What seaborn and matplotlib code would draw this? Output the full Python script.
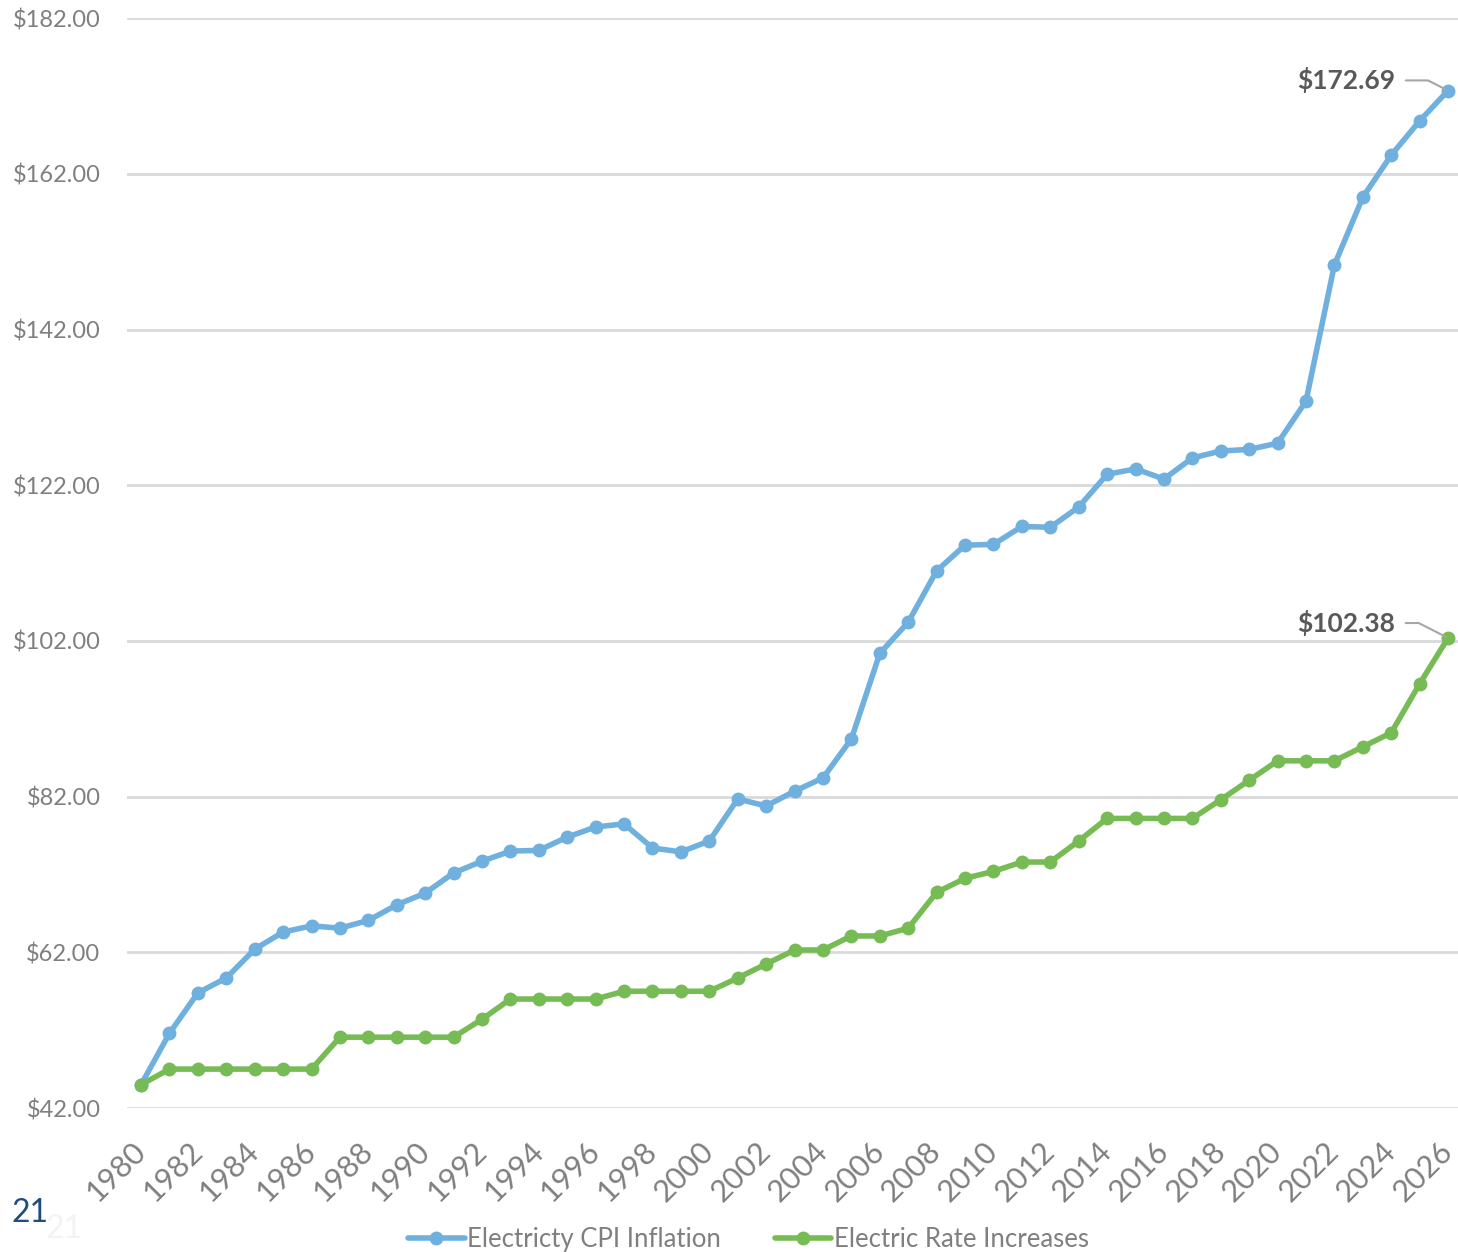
import pandas as pd
import matplotlib.pyplot as plt
import seaborn as sns

years = list(range(1980, 2027))

cpi_inflation = [45.0, 51.6, 56.8, 58.7, 62.4, 64.6, 65.4, 65.1, 66.1, 68.1,
                 69.6, 72.2, 73.7, 75.0, 75.1, 76.8, 78.1, 78.5, 75.4, 74.9,
                 76.3, 81.7, 80.8, 82.7, 84.4, 89.4, 100.4, 104.4, 111.0, 114.3,
                 114.4, 116.7, 116.6, 119.2, 123.4, 124.1, 122.8, 125.5, 126.4, 126.6,
                 127.4, 132.8, 150.3, 159.0, 164.4, 168.8, 172.69]

rate_increases = [45.0, 47.0, 47.0, 47.0, 47.0, 47.0, 47.0, 51.1, 51.1, 51.1,
                  51.1, 51.1, 53.4, 56.0, 56.0, 56.0, 56.0, 57.0, 57.0, 57.0,
                  57.0, 58.7, 60.5, 62.3, 62.3, 64.1, 64.1, 65.1, 69.7, 71.5,
                  72.4, 73.6, 73.6, 76.3, 79.2, 79.2, 79.2, 79.2, 81.6, 84.1,
                  86.6, 86.6, 86.6, 88.4, 90.2, 96.5, 102.38]

series_names = ['Electricty CPI Inflation', 'Electric Rate Increases']
series_colors = ['#6fb0df', '#77bb55']
y_ticks = [42, 62, 82, 102, 122, 142, 162, 182]
x_ticks = list(range(1980, 2027, 2))

df = pd.DataFrame({
    'year': years * 2,
    'value': cpi_inflation + rate_increases,
    'series': [series_names[0]] * len(years) + [series_names[1]] * len(years),
})

sns.set_style('white')
plt.rcParams['font.family'] = ['Lato', 'DejaVu Sans']

fig = plt.figure(figsize=(14.58, 12.52), dpi=100)
ax = fig.add_axes([0.087, 0.115, 0.913, 0.8705])

sns.lineplot(data=df, x='year', y='value', hue='series', palette=series_colors,
             marker='o', markersize=10, markeredgewidth=0, linewidth=4,
             ax=ax, zorder=3)

ax.set_xlim(1979.5, 2026.35)
ax.set_ylim(42, 182)
ax.set_yticks(y_ticks)
ax.set_yticklabels([f'${v:.2f}' for v in y_ticks])
ax.set_xticks(x_ticks)
ax.set_xticklabels([str(y) for y in x_ticks], rotation=45, ha='right',
                   va='center', rotation_mode='anchor')
ax.tick_params(axis='both', length=0, colors='#7f7f7f')
ax.tick_params(axis='y', pad=19, labelsize=17)
ax.tick_params(axis='x', pad=28, labelsize=22)
ax.set_xlabel('')
ax.set_ylabel('')
ax.grid(axis='y', color='#d9d9d9', linewidth=2)
ax.set_axisbelow(True)
for s in ax.spines.values():
    s.set_visible(False)

# end labels with leader lines
for vals, txt_y in [(cpi_inflation, 174.0), (rate_increases, 104.3)]:
    last = vals[-1]
    ax.annotate(f'${last:.2f}', xy=(years[-1], last), xytext=(2024.15, txt_y),
                ha='right', va='center', fontsize=19, fontweight='bold',
                color='#595959',
                arrowprops=dict(arrowstyle='-', color='#a6a6a6', lw=1.5,
                                connectionstyle='angle,angleA=0,angleB=153,rad=0',
                                shrinkA=5, shrinkB=2))

leg = ax.legend(loc='upper center', bbox_to_anchor=(0.467, -0.088), ncol=2,
                frameon=False, fontsize=18.5, handlelength=2.2, handletextpad=0.1,
                columnspacing=2.1)
for t in leg.get_texts():
    t.set_color('#7f7f7f')

fig.text(0.008, 0.024, '21', fontsize=23, color='#1f4e79')
fig.text(0.031, 0.011, '21', fontsize=23, color='#f3f3f3')

fig.savefig('out.png', dpi=100)
